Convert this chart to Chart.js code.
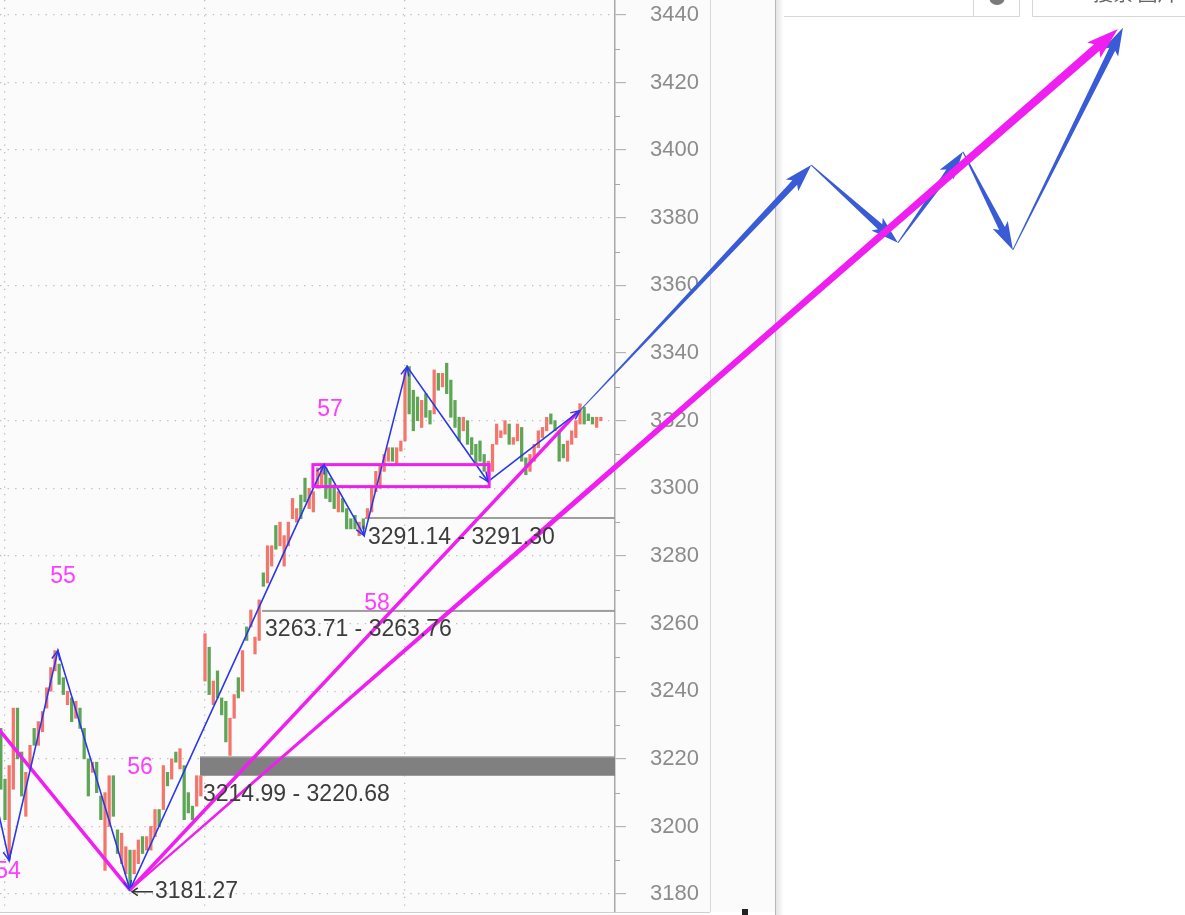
<!DOCTYPE html>
<html lang="zh">
<head>
<meta charset="UTF-8">
<title>K线 波浪</title>
<script src="https://cdn.jsdelivr.net/npm/chart.js"></script>
<style>
    html, body { margin: 0; padding: 0; background: #fff; overflow: hidden; }
    #wrap { position: relative; width: 1185px; height: 915px; }
</style>
</head>
<body>
<div id="wrap"><canvas id="kline" width="1185" height="915"></canvas></div>
<script>
// 5 min bars: last bar of the previous session + three sessions of 48
const opens = [
    3229, 3214, 3190, 3211, 3235, 3222, 3203, 3217, 3229, 3224,
    3228, 3235, 3240, 3246, 3248, 3244, 3236, 3238, 3232, 3235,
    3229, 3220, 3216, 3219, 3209, 3187, 3200, 3215, 3199, 3189,
    3186, 3193, 3186, 3189, 3197, 3193, 3193, 3197, 3205, 3205,
    3216, 3214, 3222, 3217, 3218, 3210, 3206, 3206, 3209, 3243,
    3253, 3236, 3246, 3238, 3237, 3221, 3232, 3244, 3240, 3259,
    3259, 3251, 3255, 3275, 3272, 3277, 3289, 3283, 3277, 3283,
    3291, 3290, 3298, 3303, 3294, 3293, 3300, 3301, 3306, 3303,
    3301, 3293, 3297, 3294, 3291, 3292, 3286, 3291, 3291, 3293,
    3299, 3300, 3305, 3308, 3312, 3307, 3311, 3314, 3336, 3329,
    3327, 3318, 3328, 3323, 3322, 3334, 3330, 3337, 3332, 3326,
    3321, 3317, 3320, 3315, 3313, 3314, 3310, 3302, 3305, 3313,
    3315, 3316, 3319, 3313, 3314, 3318, 3309, 3305, 3308, 3312,
    3315, 3317, 3322, 3320, 3317, 3313, 3308, 3313, 3315, 3319,
    3324, 3322, 3321, 3318, 3320
];
const closes = [
    3211, 3202, 3218, 3235, 3220, 3209, 3216, 3224, 3224, 3231,
    3234, 3241, 3247, 3252, 3242, 3239, 3240, 3231, 3237, 3229,
    3220, 3209, 3219, 3210, 3202, 3210, 3215, 3203, 3192, 3198,
    3194, 3181.27, 3193, 3196, 3192, 3197, 3200, 3205, 3200, 3218,
    3212, 3220, 3219, 3223, 3202, 3204, 3202, 3215, 3214.99, 3257,
    3239, 3243, 3238, 3233, 3225, 3232, 3239, 3238, 3252, 3255,
    3264, 3256, 3267, 3271, 3283, 3283, 3282, 3290, 3286, 3290,
    3297, 3294, 3291, 3296, 3300, 3299, 3306, 3307, 3297, 3296,
    3294, 3299, 3293, 3288, 3288, 3288, 3290, 3288, 3294, 3300,
    3305, 3307, 3310, 3312, 3308, 3312, 3314, 3335, 3322, 3317,
    3320, 3326, 3321, 3319, 3335, 3329, 3334, 3328, 3321, 3318,
    3314, 3321, 3313, 3310, 3307, 3308, 3305, 3308, 3313, 3319,
    3317, 3320, 3313, 3315, 3319, 3308, 3304, 3310, 3313, 3317,
    3318, 3321, 3319, 3317, 3308, 3309, 3314, 3317, 3320, 3325,
    3319, 3320, 3319, 3321, 3321
];

const dayStarts = [1, 49, 97];
const yTicks = [3180, 3200, 3220, 3240, 3260, 3280, 3300, 3320, 3340, 3360, 3380, 3400, 3420, 3440];
const yMinorTicks = [3190, 3210, 3230, 3250, 3270, 3290, 3310, 3330, 3350, 3370, 3390, 3410, 3430];

// blue zigzag (bar index, price)
const zigX = [-2, 2, 13.7, 31, 77.6, 87.2, 97.5, 116.9, 139];
const zigY = [3212, 3190, 3252, 3181.27, 3307, 3286, 3336, 3302, 3323];

// projected path (thick blue arrows)
const projX = [139, 194.5, 215.3, 230.9, 242.9, 269.3];
const projY = [3323, 3395.6, 3372.6, 3399.5, 3370.5, 3436.2];

// magenta trend lines
const downTrendX = [-2, 31];
const downTrendY = [3231, 3181.27];
const upTrendX = [31, 138.5];
const upTrendY = [3181.27, 3322.6];
const bigArrowX = [31, 268.1];
const bigArrowY = [3181.27, 3435.8];

// magenta box
const boxX = [74.9, 117.2];
const boxY = [3300.5, 3307];

// price zones
const zoneStart = [87.4, 62.7, 47.8];
const zoneLow = [3291.14, 3263.71, 3214.99];
const zoneHigh = [3291.30, 3263.76, 3220.68];

// wave labels
const waveText = ['54', '55', '56', '57', '58'];
const waveX = [1.7, 14.9, 33.4, 79.0, 90.3];
const waveY = [3186.5, 3273.8, 3217.3, 3323.2, 3265.8];

const lowText = '3181.27';
const lowX = 31;
const lowY = 3181.27;

const RED = '#f3766c';
const GREEN = '#5ea656';
const BLUE = '#2b38ea';
const BLUE2 = '#3a5bd6';
const MAGENTA = '#f01ef0';
const FONT = '"Liberation Sans", Arial, sans-serif';

const xMin = -0.2;
const xMax = xMin + 615 / (200 / 48);

function vHead(ctx, x0, y0, x1, y1, len, spread) {
    const a = Math.atan2(y1 - y0, x1 - x0);
    ctx.beginPath();
    ctx.moveTo(x1 - len * Math.cos(a - spread), y1 - len * Math.sin(a - spread));
    ctx.lineTo(x1, y1);
    ctx.lineTo(x1 - len * Math.cos(a + spread), y1 - len * Math.sin(a + spread));
    ctx.stroke();
}

function taperArrow(ctx, x0, y0, x1, y1, w0, w1, headLen, headW) {
    const dx = x1 - x0, dy = y1 - y0, L = Math.hypot(dx, dy);
    const ux = dx / L, uy = dy / L, nx = -uy, ny = ux;
    const bx = x1 - ux * headLen, by = y1 - uy * headLen;
    const notch = 4;
    ctx.beginPath();
    ctx.moveTo(x0 + nx * w0 / 2, y0 + ny * w0 / 2);
    ctx.lineTo(bx + nx * w1 / 2, by + ny * w1 / 2);
    ctx.lineTo(bx - ux * notch + nx * headW / 2, by - uy * notch + ny * headW / 2);
    ctx.lineTo(x1, y1);
    ctx.lineTo(bx - ux * notch - nx * headW / 2, by - uy * notch - ny * headW / 2);
    ctx.lineTo(bx - nx * w1 / 2, by - ny * w1 / 2);
    ctx.lineTo(x0 - nx * w0 / 2, y0 - ny * w0 / 2);
    ctx.closePath();
    ctx.fill();
}

const decor = {
    id: 'decor',
    beforeDraw(chart) {
        const ctx = chart.ctx;
        const area = chart.chartArea;
        const yAx = chart.scales.y;
        ctx.save();
        ctx.fillStyle = '#ffffff';
        ctx.fillRect(0, 0, chart.width, chart.height);
        ctx.fillStyle = '#fbfbfb';
        ctx.fillRect(0, 0, 775, area.bottom);
        // panel edges
        ctx.fillStyle = '#dadada';
        ctx.fillRect(yAx.right, 0, 1, area.bottom);
        ctx.fillStyle = '#cfcfcf';
        ctx.fillRect(0, area.bottom, yAx.right, 1);
        ctx.fillStyle = '#b8b8b8';
        ctx.fillRect(775, 0, 1, chart.height);
        const g = ctx.createLinearGradient(776, 0, 784, 0);
        g.addColorStop(0, '#e4e4e4');
        g.addColorStop(1, '#ffffff');
        ctx.fillStyle = g;
        ctx.fillRect(776, 0, 8, chart.height);
        ctx.fillStyle = '#222';
        ctx.fillRect(742, 909, 6, 6);
        // search bar at the top right
        ctx.strokeStyle = '#d6d6d6';
        ctx.lineWidth = 1;
        ctx.beginPath();
        ctx.moveTo(784, 16.5); ctx.lineTo(1019.5, 16.5); ctx.lineTo(1019.5, 0);
        ctx.moveTo(973.5, 0); ctx.lineTo(973.5, 16.5);
        ctx.moveTo(1032.5, 0); ctx.lineTo(1032.5, 16.5); ctx.lineTo(1185, 16.5);
        ctx.stroke();
        ctx.fillStyle = '#7a7a7a';
        ctx.beginPath();
        ctx.arc(997, -3, 8, 0, Math.PI * 2);
        ctx.fill();
        ctx.fillStyle = '#666';
        ctx.font = '20px "Noto Sans CJK SC", sans-serif';
        ctx.textBaseline = 'alphabetic';
        ctx.fillText('搜索 图片', 1093, 1);
        ctx.restore();
    },
    beforeDatasetsDraw(chart) {
        const ctx = chart.ctx;
        const x = chart.scales.x, y = chart.scales.y;
        const right = chart.chartArea.right;
        ctx.save();
        zoneStart.forEach((s, i) => {
            const x0 = x.getPixelForValue(s);
            const yHi = y.getPixelForValue(zoneHigh[i]);
            const yLo = y.getPixelForValue(zoneLow[i]);
            const h = yLo - yHi;
            if (h < 3) {
                ctx.fillStyle = '#9c9c9c';
                ctx.fillRect(x0, (yHi + yLo) / 2 - 1, right - x0, 2);
            } else {
                ctx.fillStyle = '#808080';
                ctx.fillRect(x0, yHi, right - x0, h);
                ctx.fillStyle = '#a8a8a8';
                ctx.fillRect(x0, yHi, right - x0, 1);
            }
        });
        ctx.restore();
    },
    afterDatasetsDraw(chart) {
        const ctx = chart.ctx;
        const x = chart.scales.x, y = chart.scales.y;
        ctx.save();

        // minor ticks on the price axis
        ctx.strokeStyle = '#a8a8a8';
        ctx.lineWidth = 1;
        ctx.beginPath();
        yMinorTicks.forEach(v => {
            const p = Math.round(y.getPixelForValue(v)) + 0.5;
            ctx.moveTo(y.left, p);
            ctx.lineTo(y.left + 5, p);
        });
        ctx.stroke();

        // magenta box
        ctx.strokeStyle = MAGENTA;
        ctx.lineWidth = 3;
        const bx0 = x.getPixelForValue(boxX[0]), bx1 = x.getPixelForValue(boxX[1]);
        const by0 = y.getPixelForValue(boxY[1]), by1 = y.getPixelForValue(boxY[0]);
        ctx.strokeRect(bx0, by0, bx1 - bx0, by1 - by0);

        // arrowheads on the thin blue zigzag
        ctx.strokeStyle = BLUE;
        ctx.lineWidth = 1.5;
        for (let i = 1; i < zigX.length; i++) {
            vHead(ctx,
                x.getPixelForValue(zigX[i - 1]), y.getPixelForValue(zigY[i - 1]),
                x.getPixelForValue(zigX[i]), y.getPixelForValue(zigY[i]), 10, 0.42);
        }

        // projected path
        ctx.fillStyle = BLUE2;
        for (let i = 1; i < projX.length; i++) {
            taperArrow(ctx,
                x.getPixelForValue(projX[i - 1]), y.getPixelForValue(projY[i - 1]),
                x.getPixelForValue(projX[i]), y.getPixelForValue(projY[i]),
                1, 6.5, 24, 17);
        }

        // long magenta arrow
        ctx.fillStyle = MAGENTA;
        taperArrow(ctx,
            x.getPixelForValue(bigArrowX[0]), y.getPixelForValue(bigArrowY[0]),
            x.getPixelForValue(bigArrowX[1]), y.getPixelForValue(bigArrowY[1]),
            2, 8.5, 28, 20);

        // zone labels
        ctx.font = '23px ' + FONT;
        ctx.textBaseline = 'middle';
        ctx.textAlign = 'left';
        ctx.fillStyle = '#3c3c3c';
        zoneStart.forEach((s, i) => {
            const t = zoneLow[i].toFixed(2) + ' - ' + zoneHigh[i].toFixed(2);
            ctx.fillText(t, x.getPixelForValue(s) + 3, y.getPixelForValue(zoneLow[i]) + 19);
        });

        // low marker
        const lx = x.getPixelForValue(lowX), ly = y.getPixelForValue(lowY) + 2;
        ctx.fillText(lowText, lx + 25, ly);
        ctx.strokeStyle = '#333';
        ctx.lineWidth = 1.5;
        ctx.beginPath();
        ctx.moveTo(lx + 23, ly);
        ctx.lineTo(lx + 2, ly);
        ctx.stroke();
        vHead(ctx, lx + 23, ly, lx + 2, ly, 7, 0.6);

        // wave numbers
        ctx.fillStyle = '#ff3cff';
        ctx.textAlign = 'center';
        waveText.forEach((t, i) => {
            ctx.fillText(t, x.getPixelForValue(waveX[i]), y.getPixelForValue(waveY[i]));
        });
        ctx.restore();
    }
};

const candles = opens.map((o, i) => ({ x: i, y: [o, closes[i]] }));
const candleColors = opens.map((o, i) => closes[i] >= o ? RED : GREEN);
const pts = (xs, ys) => xs.map((v, i) => ({ x: v, y: ys[i] }));

const lineBase = { type: 'line', pointRadius: 0, tension: 0, fill: false, clip: false };

new Chart(document.getElementById('kline'), {
    type: 'bar',
    data: {
        datasets: [
            {
                type: 'bar',
                data: candles,
                backgroundColor: candleColors,
                borderWidth: 0,
                barThickness: 2.6,
                order: 10
            },
            Object.assign({}, lineBase, {
                data: pts(downTrendX, downTrendY),
                borderColor: MAGENTA,
                borderWidth: 3.5,
                order: 5
            }),
            Object.assign({}, lineBase, {
                data: pts(upTrendX, upTrendY),
                borderColor: MAGENTA,
                borderWidth: 3.5,
                order: 5
            }),
            Object.assign({}, lineBase, {
                data: pts(zigX, zigY),
                borderColor: BLUE,
                borderWidth: 1.6,
                order: 1
            })
        ]
    },
    options: {
        responsive: false,
        devicePixelRatio: 1,
        animation: false,
        events: [],
        layout: { padding: { left: 0, top: 0, right: 475, bottom: 3 } },
        plugins: {
            legend: { display: false },
            tooltip: { enabled: false },
            title: { display: false }
        },
        scales: {
            x: {
                type: 'linear',
                min: xMin,
                max: xMax,
                offset: false,
                afterBuildTicks: s => { s.ticks = dayStarts.map(v => ({ value: v })); },
                afterFit: s => { s.height = 0; s.paddingLeft = 0; s.paddingRight = 0; },
                ticks: { display: false },
                grid: { color: '#bdbdbd', lineWidth: 1.3, drawTicks: false, offset: false },
                border: { display: false, dash: [1.3, 6.3] }
            },
            y: {
                type: 'linear',
                position: 'right',
                min: 3174.7,
                max: 3444.4,
                beginAtZero: false,
                afterBuildTicks: s => { s.ticks = yTicks.map(v => ({ value: v })); },
                afterFit: s => { s.width = 95; s.paddingTop = 0; s.paddingBottom = 0; },
                ticks: {
                    color: '#8c8c8c',
                    font: { family: FONT, size: 22 },
                    padding: 24,
                    callback: v => String(v)
                },
                grid: {
                    color: '#bdbdbd',
                    lineWidth: 1.3,
                    drawTicks: true,
                    tickLength: 11,
                    tickColor: '#a8a8a8',
                    tickWidth: 1,
                    tickBorderDash: []
                },
                border: { display: true, color: '#a8a8a8', width: 1.5, dash: [1.3, 6.3] }
            }
        }
    },
    plugins: [decor]
});
</script>
</body>
</html>
